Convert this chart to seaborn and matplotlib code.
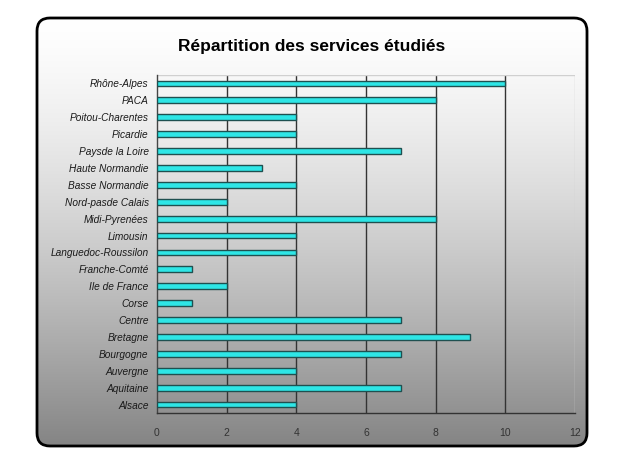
import matplotlib
matplotlib.use("Agg")
import matplotlib.pyplot as plt
import seaborn as sns
import numpy as np
import pandas as pd
from matplotlib.patches import FancyBboxPatch

regions = ["Rhône-Alpes", "PACA", "Poitou-Charentes", "Picardie", "Paysde la Loire",
           "Haute Normandie", "Basse Normandie", "Nord-pasde Calais", "Midi-Pyrenées",
           "Limousin", "Languedoc-Roussilon", "Franche-Comté", "Ile de France", "Corse",
           "Centre", "Bretagne", "Bourgogne", "Auvergne", "Aquitaine", "Alsace"]
values = [10, 8, 4, 4, 7, 3, 4, 2, 8, 4, 4, 1, 2, 1, 7, 9, 7, 4, 7, 4]
xticks = [0, 2, 4, 6, 8, 10, 12]
title = "Répartition des services étudiés"

sns.set_style("white")
plt.rcParams['font.family'] = ['Liberation Sans', 'DejaVu Sans']

W, H = 620, 465
fig = plt.figure(figsize=(W/100, H/100), dpi=100)
fig.patch.set_facecolor("white")

# background panel with gradient
bg = fig.add_axes([0, 0, 1, 1])
bg.set_xlim(0, W)
bg.set_ylim(H, 0)
bg.axis("off")
px0, py0, px1, py1 = 37, 18, 587, 446
panel = FancyBboxPatch((px0, py0), px1 - px0, py1 - py0,
                       boxstyle="round,pad=0,rounding_size=13",
                       facecolor="none", edgecolor="black", linewidth=2, zorder=2)
bg.add_patch(panel)
grad = np.linspace(0, 1, 256)
shade = 1.0 - 0.48 * grad ** 1.4
img = np.repeat(shade[:, None, None], 3, axis=2).repeat(2, axis=1)
im = bg.imshow(img, extent=(px0, px1, py1, py0), aspect="auto", zorder=1)
im.set_clip_path(panel)

bg.text(312, 46, title, ha="center", va="center", fontsize=12.5, fontweight="bold", color="black")

# main axes
ax = fig.add_axes([157/W, 1 - 413/H, (575 - 157)/W, (413 - 75)/H])
ax.patch.set_alpha(0)
df = pd.DataFrame({"region": regions, "value": values})
sns.barplot(data=df, x="value", y="region", orient="h", ax=ax, color="#2ee6e6",
            width=0.34, edgecolor="#1f5050", linewidth=1.0, saturation=1, zorder=3)
ax.set_xlim(0, 12)
ax.set_ylim(19.5, -0.5)
ax.set_xticks(xticks)
ax.set_xticklabels([str(t) for t in xticks], fontsize=7.5, color="#333333")
ax.set_yticklabels(regions, fontsize=7.3, fontstyle="italic", color="#1a1a1a")
ax.set_xlabel("")
ax.set_ylabel("")
for x in xticks[1:-1]:
    ax.axvline(x, color="#333333", linewidth=1.0, zorder=1)
ax.axvline(12, color="#d0d0d0", linewidth=1.0, zorder=1)
ax.axhline(-0.5, color="#d0d0d0", linewidth=1.0, zorder=1)
for s in ["top", "right"]:
    ax.spines[s].set_visible(False)
ax.spines["left"].set_color("#444444")
ax.spines["bottom"].set_color("#333333")
ax.spines["left"].set_linewidth(1.0)
ax.spines["bottom"].set_linewidth(1.0)
ax.set_yticks(np.arange(-0.5, 20, 1), minor=True)
ax.tick_params(axis="y", which="major", length=0, pad=6)
ax.tick_params(axis="y", which="minor", length=3, direction="out", color="#333333")
ax.tick_params(axis="x", length=4, direction="out", color="#333333", pad=7)

fig.savefig("out.png", dpi=100)
